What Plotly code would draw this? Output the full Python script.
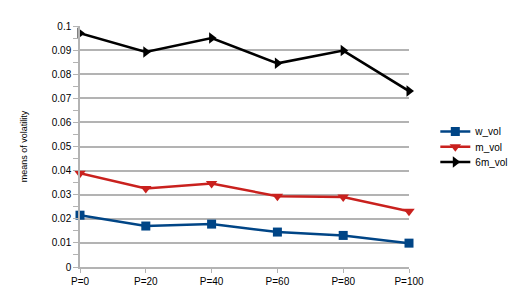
import plotly.graph_objects as go

categories = ["P=0", "P=20", "P=40", "P=60", "P=80", "P=100"]
w_vol = [0.0215, 0.0170, 0.0178, 0.0145, 0.0131, 0.0099]
m_vol = [0.0389, 0.0326, 0.0346, 0.0294, 0.0290, 0.0231]
m6_vol = [0.0970, 0.0892, 0.0950, 0.0845, 0.0898, 0.0730]
y_ticks = [0, 0.01, 0.02, 0.03, 0.04, 0.05, 0.06, 0.07, 0.08, 0.09, 0.1]
y_ticklabels = ["0", "0.01", "0.02", "0.03", "0.04", "0.05", "0.06", "0.07", "0.08", "0.09", "0.1"]

xs = list(range(len(categories)))

fig = go.Figure()
fig.add_trace(go.Scatter(x=xs, y=w_vol, name="w_vol", mode="lines+markers",
                         line=dict(color="#004586", width=2.5),
                         marker=dict(symbol="square", size=9, color="#004586"),
                         cliponaxis=False, legend="legend"))
fig.add_trace(go.Scatter(x=xs, y=m_vol, name="m_vol", mode="lines+markers",
                         line=dict(color="#c9211e", width=2.5),
                         marker=dict(symbol="triangle-down", size=10, color="#c9211e"),
                         cliponaxis=False, legend="legend2"))
fig.add_trace(go.Scatter(x=xs, y=m6_vol, name="6m_vol", mode="lines+markers",
                         line=dict(color="#000000", width=2.5),
                         marker=dict(symbol="triangle-right", size=10, color="#000000"),
                         cliponaxis=False, legend="legend3"))

leg_common = dict(x=1.08, xanchor="left", yanchor="middle", font=dict(size=10),
                  itemwidth=30, bgcolor="rgba(0,0,0,0)")

fig.update_layout(
    width=517, height=291,
    margin=dict(l=72, r=104, t=12, b=26),
    paper_bgcolor="white", plot_bgcolor="white",
    font=dict(family="Liberation Sans, Arial, sans-serif", size=10, color="#000000"),
    showlegend=True,
    legend=dict(y=0.562, **leg_common),
    legend2=dict(y=0.499, **leg_common),
    legend3=dict(y=0.436, **leg_common),
    xaxis=dict(range=[0, 5], tickmode="array", tickvals=xs, ticktext=categories,
               showgrid=False, zeroline=False, showline=True, linecolor="#b3b3b3",
               linewidth=1.5, ticks="outside", ticklen=4, tickcolor="#b3b3b3",
               tickfont=dict(size=10)),
    yaxis=dict(range=[0, 0.1], tickmode="array", tickvals=y_ticks, ticktext=y_ticklabels,
               showgrid=True, gridcolor="#b3b3b3", gridwidth=1.5, zeroline=False,
               showline=True, linecolor="#b3b3b3", linewidth=1.5,
               ticks="outside", ticklen=5, tickcolor="#b3b3b3",
               minor=dict(dtick=0.005, ticks="outside", ticklen=5, tickcolor="#b3b3b3", showgrid=False),
               title=dict(text="means of volatility", font=dict(size=9), standoff=23),
               tickfont=dict(size=10)),
)

fig.write_html("out.html")
